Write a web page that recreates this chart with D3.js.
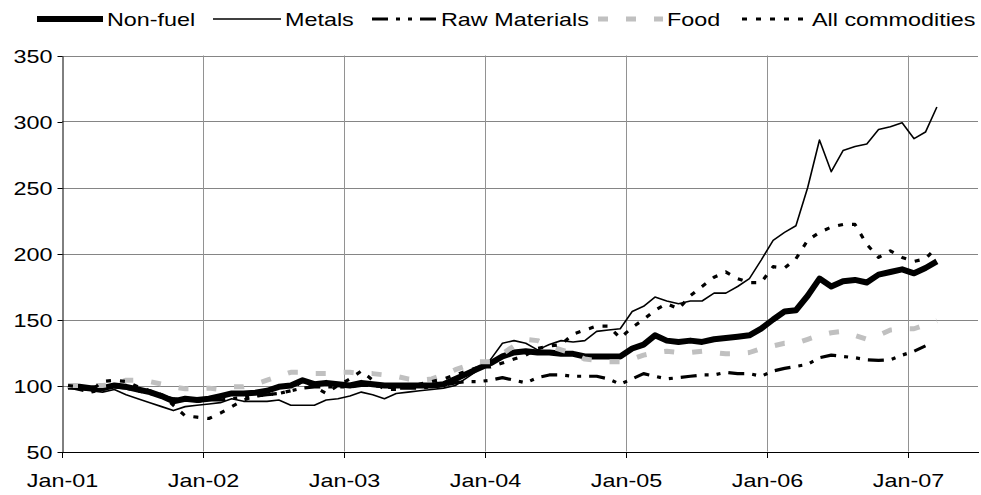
<!DOCTYPE html>
<html>
<head>
<meta charset="utf-8">
<script src="https://cdn.jsdelivr.net/npm/d3@7"></script>
<style>
  body { margin: 0; background: #fff; }
  text { font-family: "Liberation Sans", Arial, sans-serif; fill: #000; }
</style>
</head>
<body>
<svg id="chart" width="981" height="495"></svg>
<script>
// monthly index values, Jan-01 .. Mar-07
const seriesNames = ["Non-fuel", "Metals", "Raw Materials", "Food", "All commodities"];

const nonFuel = [
  99, 99, 98, 98, 100, 99, 97, 95, 92, 88, 90, 89,
  90, 92, 94, 94, 94.5, 96, 99, 100, 104, 101, 102, 101,
  100, 102, 101, 100, 100, 100, 100, 100, 101, 105, 109, 113,
  117, 122, 125, 126, 125, 125, 124, 124, 122, 122, 122, 122,
  128, 131, 138, 134, 133, 134, 133, 135, 136, 137, 138, 143,
  150, 156, 157, 168, 181, 175, 179, 180, 178, 184, 186, 188,
  185, 189, 194
];
const metals = [
  99, 97, 96, 95, 97, 93, 90, 87, 84, 81, 84, 85,
  86, 87, 90, 88, 88, 88, 89, 85, 85, 85, 89, 90,
  92, 95, 93, 90, 94, 95, 96, 97, 98, 100, 106, 112,
  120, 132, 134, 132, 127, 131, 134, 133, 134, 141, 142, 143,
  156, 160, 167, 164, 162, 164, 164, 170, 170, 175, 181, 195,
  210, 216, 221, 250, 286, 262, 278, 281, 283, 294, 296, 299,
  287, 292, 311
];
const rawMaterials = [
  99, 97, 95, 97, 99, 98, 96, 94, 92, 90, 89, 88,
  89, 89, 90, 91, 92, 93, 94, 96, 98, 99, 99, 99,
  99, 100, 100, 99, 98, 98, 98, 99, 100, 102, 103, 103,
  104, 106, 104, 102, 106, 108, 108, 107, 107, 107, 105, 101,
  105, 109, 107, 105, 106, 107, 108, 108, 110, 109, 109, 107,
  111, 113, 114.5, 116, 121, 123, 122, 121, 119.5, 119, 119.5, 123,
  126, 130, null
];
const food = [
  100, 100, 100, 100, 101, 104, 104, 103, 101, 99, 97.5, 97.5,
  98, 97, 99, 99, 101, 104, 107, 110, 110, 109, 109, 110,
  110, 109, 109, 108, 107, 105, 104, 105, 108, 112, 115, 118,
  118, 124, 130, 135, 134, 130, 127, 124, 120, 119, 118, 118,
  120, 123, 125, 126, 125, 125, 126, 125, 124, 124, 125, 128,
  130, 132, 132, 135, 138, 140, 141, 138, 135, 138, 142, 143,
  143, 146, 149
];
const allCommodities = [
  100, 99, 96, 103, 104, 103, 99, 96, 93, 85, 77, 76,
  75, 79, 84, 89, 92, 93, 94, 96, 104, 99, 94, 100,
  105, 111, 104, 97, 97, 99, 101, 103, 105, 108, 111, 114,
  114, 117, 120, 123, 128, 130, 131, 139, 142, 145, 145, 136,
  144, 150, 157, 162, 158, 168, 175, 182, 186, 181, 178, 178,
  190, 189, 196, 210, 216, 220, 222, 222, 207, 197, 202, 197,
  194, 196, 205
];

const yTicks = [50, 100, 150, 200, 250, 300, 350];
const xTickYears = [2001, 2002, 2003, 2004, 2005, 2006, 2007];

const styles = [
  { color: "#000", width: 6, dash: null },
  { color: "#000", width: 1.6, dash: null },
  { color: "#000", width: 3.2, dash: "16,8,4,8,4,8" },
  { color: "#c0c0c0", width: 5, dash: "10,18" },
  { color: "#000", width: 3.2, dash: "5,9" }
];
const legendPos = [
  { x0: 37, x1: 103, tx: 107 },
  { x0: 213, x1: 281, tx: 285 },
  { x0: 372, x1: 438, tx: 441 },
  { x0: 598, x1: 663, tx: 667 },
  { x0: 742, x1: 807, tx: 812 }
];

const STRETCH = 1.23, FONT = 19;
const svg = d3.select("#chart");
const plotLeft = 62, plotRight = 978, plotTop = 55.5, plotBottom = 451.5;

const x = d3.scaleUtc()
  .domain([new Date(Date.UTC(2001, 0, 1)), new Date(Date.UTC(2007, 6, 1))])
  .range([plotLeft, plotRight]);
const y = d3.scaleLinear().domain([50, 350]).range([plotBottom, plotTop]);

const firstMonth = new Date(Date.UTC(2001, 0, 1));
const xMid = i => {
  const a = d3.utcMonth.offset(firstMonth, i), b = d3.utcMonth.offset(firstMonth, i + 1);
  return (x(a) + x(b)) / 2;
};

// grid
const yearDates = xTickYears.map(yr => new Date(Date.UTC(yr, 0, 1)));
svg.append("g").selectAll("line")
  .data(yTicks.slice(1)).enter().append("line")
  .attr("x1", plotLeft).attr("x2", plotRight)
  .attr("y1", d => Math.round(y(d)) + 0.5).attr("y2", d => Math.round(y(d)) + 0.5)
  .attr("stroke", "#858585");
svg.append("g").selectAll("line")
  .data(yearDates.slice(1)).enter().append("line")
  .attr("x1", d => Math.round(x(d)) + 0.5).attr("x2", d => Math.round(x(d)) + 0.5)
  .attr("y1", plotTop).attr("y2", plotBottom)
  .attr("stroke", "#929292");

// axes
const yAxis = svg.append("g")
  .attr("transform", `translate(${plotLeft + 0.5},0.5)`)
  .call(d3.axisLeft(y).tickValues(yTicks).tickSize(5).tickSizeOuter(0));
yAxis.select(".domain").attr("stroke", "#000");
yAxis.selectAll("text")
  .attr("font-size", FONT)
  .attr("x", -10 / STRETCH)
  .attr("dy", "0.36em")
  .attr("transform", `scale(${STRETCH},1)`);

const xAxis = svg.append("g")
  .attr("transform", `translate(0.5,${plotBottom + 0.5})`)
  .call(d3.axisBottom(x).tickValues(yearDates).tickFormat(d3.utcFormat("%b-%y")).tickSize(6).tickSizeOuter(0));
xAxis.selectAll(".tick").attr("transform", d => `translate(${Math.round(x(d))},0)`);
xAxis.selectAll("text")
  .attr("font-size", FONT)
  .attr("y", 35.5).attr("dy", "0")
  .attr("transform", `scale(${STRETCH},1)`);

// series
const seriesData = [nonFuel, metals, rawMaterials, food, allCommodities];
const line = d3.line()
  .defined(v => v != null)
  .x((v, i) => xMid(i))
  .y(v => y(v));

seriesData.forEach((vals, k) => {
  svg.append("path")
    .attr("d", line(vals))
    .attr("fill", "none")
    .attr("stroke", styles[k].color)
    .attr("stroke-width", styles[k].width)
    .attr("stroke-linejoin", "round")
    .attr("stroke-dasharray", styles[k].dash);
});

// legend
const legend = svg.append("g");
seriesNames.forEach((name, k) => {
  const p = legendPos[k];
  legend.append("line")
    .attr("x1", p.x0).attr("x2", p.x1)
    .attr("y1", 19).attr("y2", 19)
    .attr("stroke", styles[k].color)
    .attr("stroke-width", styles[k].width)
    .attr("stroke-dasharray", styles[k].dash);
  legend.append("text")
    .attr("transform", `translate(${p.tx},26) scale(${STRETCH},1)`)
    .attr("font-size", FONT)
    .text(name);
});
</script>
</body>
</html>
